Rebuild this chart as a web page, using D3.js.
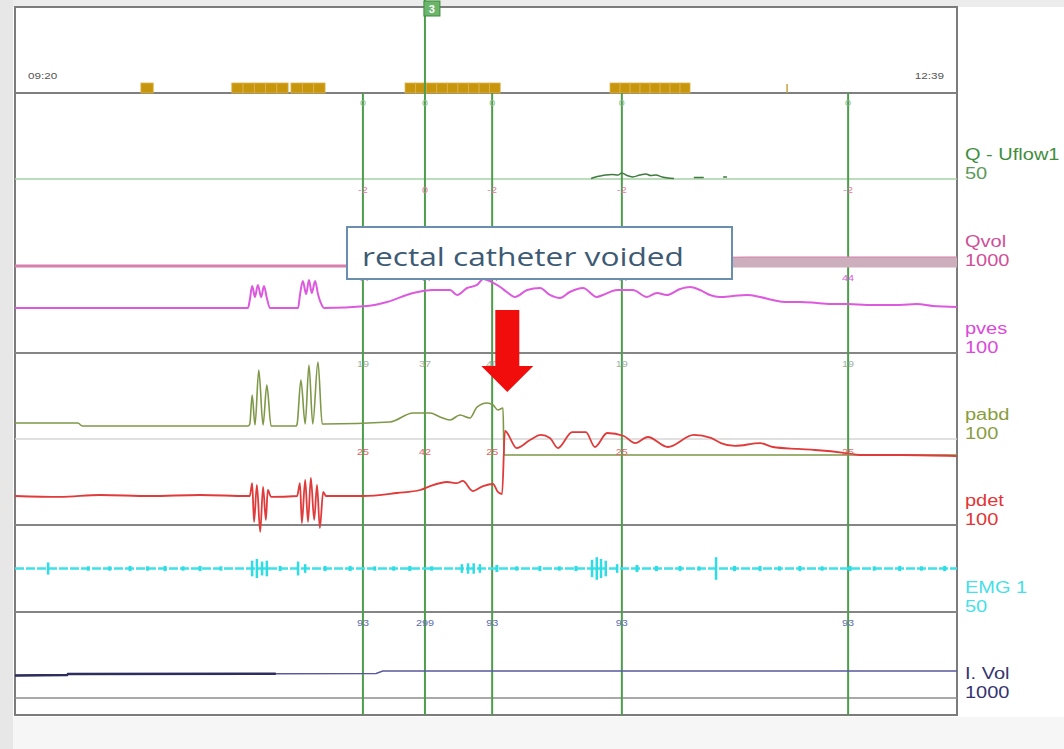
<!DOCTYPE html>
<html><head><meta charset="utf-8">
<script src="https://cdn.jsdelivr.net/npm/d3@7"></script>
<style>html,body{margin:0;padding:0;background:#f5f5f5;}svg{display:block;}</style>
</head><body><svg id="c" width="1064" height="749"></svg>
<script>
// ---------------- DATA ----------------
const timeLabels = ["09:20", "12:39"];
const timeDomain = [0, 199];               // minutes after 09:20
const eventSegments = [[26.6, 29.2], [45.8, 57.7], [58.3, 65.5], [82.4, 102.5], [125.7, 142.6]];
const eventTicks = [163.1];
const markerTimes = [73.5, 86.6, 100.8, 128.2, 176.0];
const flagTime = 86.6;
const flagText = "3";

const channelNames  = ["Q - Uflow1", "Qvol", "pves", "pabd", "pdet", "EMG 1", "I. Vol"];
const channelScales = ["50", "1000", "100", "100", "100", "50", "1000"];

const qLabels    = ["0", "0", "0", "0", "0"];
const qvolLabels = ["-2", "0", "-2", "-2", "-2"];
const pvesLabels = ["44", "44", "44", "44", "44"];
const pabdLabels = ["19", "37", "40", "19", "19"];
const pdetLabels = ["25", "42", "25", "25", "25"];
const ivolLabels = ["93", "299", "93", "93", "93"];

// Q - Uflow1 (ml/s)  [minute, value]  (null = gap)
const qFlow = [[121.7,0.3],[122.7,1.2],[123.6,1.7],[124.8,2.3],[126.1,2.6],[127.4,2.3],[128.2,3.5],
  [129.3,2.0],[130.5,1.2],[132.0,2.3],[133.3,2.9],[134.3,2.0],[135.4,2.3],[136.7,1.2],[137.9,0.6],
  [139.2,0.3],[139.5,null],[143.4,0.9],[145.5,0.9],[146,null],[149.6,1.2],[150.4,1.2]];

// Qvol (ml)
const qVol = [[0,0],[121.7,0],[126,10],[130,22],[135,40],[140,58],[145,75],[150,88],[155,92],[199,92]];

// pves (cmH2O)
const pves = [[0,51.7],[49.2,51.7],[49.6,60.9],[50.1,77.0],[50.7,64.4],[51.3,78.2],[52.0,64.4],[52.6,77.0],
  [53.2,63.2],[53.9,51.7],[59.8,51.7],[60.2,66.7],[60.8,82.8],[61.5,67.8],[62.1,83.9],[62.7,69.0],[63.4,82.8],
  [64.0,67.8],[64.6,57.5],[65.3,51.7],[74.4,54.0],[78.6,58.6],[84.1,69.0],[88.3,72.4],[91.9,72.4],[93.4,66.7],
  [95.5,74.7],[97.6,78.2],[98.9,85.1],[101.0,80.5],[102.5,75.9],[103.9,70.1],[105.6,64.4],[108.2,72.4],
  [110.9,74.7],[113.0,66.7],[115.1,63.2],[117.2,70.1],[120.0,74.7],[122.9,64.4],[124.2,66.7],[127.2,72.4],
  [130.5,72.4],[133.5,64.4],[135.6,69.0],[137.7,66.7],[140.5,73.6],[142.6,75.9],[144.7,72.4],[146.8,66.7],
  [148.9,64.4],[151.7,65.5],[154.6,66.7],[157.4,64.4],[160.1,60.9],[163.1,58.6],[165.8,58.6],[169.4,57.5],
  [172.8,56.3],[176.0,56.3],[180.0,55.2],[186.9,55.2],[190.5,56.3],[193.9,54.0],[199,52.9]];

// pabd (cmH2O)
const pabd = [[0,18.6],[13.3,18.6],[14.2,15.1],[49.2,15.1],[49.6,17.4],[50.1,51.2],[50.7,16.3],[51.5,80.2],
  [52.4,16.3],[53.2,62.8],[54.1,15.1],[59.4,15.1],[59.6,17.4],[60.4,68.6],[61.3,17.4],[62.1,86.0],[62.9,17.4],
  [64.0,89.5],[64.9,17.4],[65.3,17.4],[79.2,19.8],[84.1,30.2],[87.7,30.2],[89.8,25.6],[91.9,22.1],[94.0,27.9],
  [96.1,24.4],[97.6,37.2],[99.7,41.9],[101.0,39.5],[102.0,33.7],[103.1,36.0],[103.3,-18.6],[199,-18.6]];

// pdet (cmH2O)
const pdet = [[0,33.7],[9.5,32.6],[18.0,34.9],[28.5,33.7],[39.1,34.9],[49.2,33.7],[49.6,33.7],[50.1,48.8],
  [50.5,3.5],[51.1,46.5],[51.8,-8.1],[52.4,44.2],[53.0,5.8],[53.4,40.7],[54.1,32.6],[59.6,33.7],[60.2,48.8],
  [60.6,2.3],[61.3,52.3],[61.9,3.5],[62.5,54.7],[63.2,5.8],[63.8,46.5],[64.4,-3.5],[65.1,38.4],[65.7,33.7],
  [73.5,33.7],[80.7,37.2],[85.6,40.7],[87.7,45.3],[91.3,50.0],[93.4,48.8],[94.6,51.2],[96.7,39.5],[98.9,45.3],
  [101.0,47.7],[102.0,38.4],[102.9,36.0],[103.5,109.3],[106.0,89.5],[108.8,98.8],[111.1,104.7],[113.0,101.2],
  [114.7,89.5],[117.7,108.1],[120.6,108.1],[122.5,90.7],[125.1,107.0],[128.6,103.5],[131.0,95.3],[133.7,102.3],
  [137.9,90.7],[143.4,104.7],[147.0,101.2],[149.1,95.3],[152.1,91.9],[157.4,95.3],[160.1,90.7],[165.4,88.4],
  [169.0,87.2],[175.5,83.7],[178.5,81.4],[187.4,81.4],[199,80.2]];

// EMG 1 bursts (uV half-amplitude)
const emgBursts = [[7.0,7],[15.5,2.5],[20.0,2.5],[24.3,3],[28.0,2.5],[31.7,3],[35.5,2.5],[39.1,3],[43.5,2.5],
  [50.1,9],[51.1,11],[52.2,8],[53.2,9],[56.0,3],[59.8,8],[61.3,5],[65.5,3],[70.8,3],[76.0,2.5],[80.0,2.5],
  [83.4,3],[88.0,2.5],[94.4,5],[95.7,6],[96.9,6],[98.2,5],[101.8,4],[106.0,2.5],[110.9,3],[115.0,2.5],
  [118.5,3],[121.9,10],[122.9,13],[123.8,11],[124.8,9],[127.2,5],[131.4,4],[135.5,3],[140.5,3],[144.5,2.5],
  [148.1,13],[152.0,3],[157.4,3],[161.5,2.5],[165.8,3],[170.5,2.5],[176.4,3],[181.5,2.5],[186.9,3],[191.5,2.5],
  [196.4,3]];

// Infused volume (ml)
const iVol = [[0,262],[11.0,267],[11.2,279],[55.1,282],[76.3,285],[77.7,314],[199,314]];

const annotationText = "rectal catheter voided";
const voidTime = 104.0;

// ---------------- LAYOUT ----------------
const svg = d3.select("#c");
const L = 15, R = 957, T = 7, B = 715;
const x = d3.scaleLinear().domain(timeDomain).range([L, R]);

const yQ    = d3.scaleLinear().domain([0, 50]).range([179, 93]);
const yQvol = d3.scaleLinear().domain([0, 1000]).range([266, 179]);
const yPves = d3.scaleLinear().domain([0, 100]).range([353, 266]);
const yPabd = d3.scaleLinear().domain([0, 100]).range([439, 353]);
const yPdet = d3.scaleLinear().domain([0, 100]).range([525, 439]);
const yEmg  = d3.scaleLinear().domain([-50, 50]).range([612, 525]);
const yIvol = d3.scaleLinear().domain([0, 1000]).range([698, 612]);

// backgrounds
svg.append("rect").attr("width", 1064).attr("height", 749).attr("fill", "#f6f6f6");
svg.append("rect").attr("x", 0).attr("y", 0).attr("width", 13).attr("height", 749).attr("fill", "#e7e7e7");
svg.append("rect").attr("x", 13).attr("y", 0).attr("width", 1051).attr("height", T).attr("fill", "#ececec");
svg.append("rect").attr("x", 13).attr("y", T).attr("width", 1051).attr("height", B - T + 2).attr("fill", "#ffffff");
svg.append("rect").attr("x", L).attr("y", T).attr("width", R - L).attr("height", B - T)
  .attr("fill", "#fff").attr("stroke", "#7c7c7c").attr("stroke-width", 2);

// horizontal rules
const hr = (y, c, w) => svg.append("line").attr("x1", L).attr("x2", R).attr("y1", y).attr("y2", y)
  .attr("stroke", c).attr("stroke-width", w);
hr(93, "#7f7f7f", 2);
hr(yQ(0), "#a6d2a6", 1.5);
hr(353, "#858585", 2);
hr(439, "#d6d6d6", 1.5);
hr(525, "#858585", 2);
hr(612, "#858585", 2);
hr(698, "#8c8c8c", 1.5);

// top event bar
const evG = svg.append("g");
eventSegments.forEach(([s, e]) => {
  const n = Math.max(1, Math.round((e - s) / 2.2));
  const step = (e - s) / n;
  for (let i = 0; i < n; i++) {
    evG.append("rect").attr("x", x(s + i * step)).attr("y", 83)
      .attr("width", x(s + (i + 1) * step) - x(s + i * step)).attr("height", 10)
      .attr("fill", "#c8960c").attr("stroke", "#ddb24a").attr("stroke-width", 0.8);
  }
});
eventTicks.forEach(t => evG.append("line").attr("x1", x(t)).attr("x2", x(t)).attr("y1", 84).attr("y2", 93)
  .attr("stroke", "#c8a040").attr("stroke-width", 1.5));

const smallText = (g, txt, px, py, col, size, anchor, sx) =>
  g.append("text").attr("transform", `translate(${px},${py}) scale(${sx},1)`)
    .attr("text-anchor", anchor).attr("font-family", "Liberation Sans, Arial, sans-serif")
    .attr("font-size", size).attr("fill", col).text(txt);

smallText(svg, timeLabels[0], 28, 79, "#555", 9, "start", 1.3);
smallText(svg, timeLabels[1], 944, 79, "#555", 9, "end", 1.3);

// marker lines
const mG = svg.append("g");
markerTimes.forEach(t => {
  mG.append("line").attr("x1", x(t)).attr("x2", x(t))
    .attr("y1", t === flagTime ? 0 : 93).attr("y2", B)
    .attr("stroke", "#4d9d4d").attr("stroke-width", 2);
});
// flag
svg.append("rect").attr("x", x(flagTime) - 1).attr("y", 1).attr("width", 16).attr("height", 15)
  .attr("fill", "#6cb66c").attr("stroke", "#3c8c3c").attr("stroke-width", 1);
svg.append("text").attr("x", x(flagTime) + 7).attr("y", 13).attr("text-anchor", "middle")
  .attr("font-family", "Liberation Sans, Arial, sans-serif").attr("font-size", 11).attr("font-weight", "bold")
  .attr("fill", "#fff").text(flagText);

// traces
const lineFor = (ys, curve) => d3.line().defined(d => d[1] !== null).x(d => x(d[0])).y(d => ys(d[1]))
  .curve(curve || d3.curveLinear);

// Qvol
svg.append("path").datum(qVol).attr("d", lineFor(yQvol)).attr("fill", "none")
  .attr("stroke", "#d87fae").attr("stroke-width", 3);
svg.append("path").datum(qVol.filter(d => d[0] >= 121.7))
  .attr("d", d3.area().x(d => x(d[0])).y0(yQvol(0) + 1.5).y1(d => yQvol(d[1]) - 0.5))
  .attr("fill", "#ccaebd");

// Q flow
svg.append("path").datum(qFlow).attr("d", lineFor(yQ, d3.curveMonotoneX)).attr("fill", "none")
  .attr("stroke", "#3f7a3f").attr("stroke-width", 1.5);

// pves
svg.append("path").datum(pves).attr("d", lineFor(yPves, d3.curveMonotoneX)).attr("fill", "none")
  .attr("stroke", "#dc5ade").attr("stroke-width", 2);
// pabd
svg.append("path").datum(pabd).attr("d", lineFor(yPabd, d3.curveMonotoneX)).attr("fill", "none")
  .attr("stroke", "#7f9848").attr("stroke-width", 1.6);
// pdet
svg.append("path").datum(pdet).attr("d", lineFor(yPdet, d3.curveMonotoneX)).attr("fill", "none")
  .attr("stroke", "#e03a3a").attr("stroke-width", 1.8);

// EMG
svg.append("line").attr("x1", x(timeDomain[0])).attr("x2", x(timeDomain[1]))
  .attr("y1", yEmg(0)).attr("y2", yEmg(0)).attr("stroke", "#3ee2e8").attr("stroke-width", 2.5)
  .attr("stroke-dasharray", "9 2");
svg.append("g").selectAll("line").data(emgBursts).join("line")
  .attr("x1", d => x(d[0])).attr("x2", d => x(d[0]))
  .attr("y1", d => yEmg(d[1])).attr("y2", d => yEmg(-d[1]))
  .attr("stroke", "#2edde4").attr("stroke-width", d => d[1] > 4 ? 2.5 : 3);

// I.Vol
svg.append("path").datum(iVol).attr("d", lineFor(yIvol)).attr("fill", "none")
  .attr("stroke", "#5858a0").attr("stroke-width", 1.5);
svg.append("path").datum(iVol.filter(d => d[0] <= 55.1)).attr("d", lineFor(yIvol)).attr("fill", "none")
  .attr("stroke", "#2e2e5e").attr("stroke-width", 2.5);

// marker value labels
const labelRows = [
  [qLabels, 106, "#8cc08c"], [qvolLabels, 193, "#e5779f"], [pvesLabels, 281, "#dc5ade"],
  [pabdLabels, 367, "#9fb29f"], [pdetLabels, 455, "#e06666"], [ivolLabels, 626, "#5c6cb0"]
];
const lG = svg.append("g");
labelRows.forEach(([labels, py, col]) => {
  labels.forEach((txt, i) => smallText(lG, txt, x(markerTimes[i]), py, col, 9, "middle", 1.2));
});

// right-side channel labels
const chColors = [["#3e8e3e", "#5a9a5a"], ["#cf4f98", "#cf4f98"], ["#dc48dc", "#dc48dc"],
  ["#8a9d3e", "#8a9d3e"], ["#e23535", "#e23535"], ["#46e0e6", "#46e0e6"], ["#34346e", "#34346e"]];
const chBottoms = [yQ(0), yQvol(0), yPves(0), yPabd(0), yPdet(0), yEmg(-50), yIvol(0)];
channelNames.forEach((n, i) => {
  smallText(svg, n, 965, chBottoms[i] - 19, chColors[i][0], 16, "start", 1.25);
  smallText(svg, channelScales[i], 965, chBottoms[i], chColors[i][1], 16, "start", 1.25);
});

// annotation box
const bx0 = 347, bx1 = 732, by0 = 227, by1 = 279;
svg.append("rect").attr("x", bx0).attr("y", by0).attr("width", bx1 - bx0).attr("height", by1 - by0)
  .attr("fill", "#fff").attr("stroke", "#6a8fae").attr("stroke-width", 2);
svg.append("text").attr("x", 362).attr("y", 266).attr("font-family", "Open Sans, sans-serif")
  .attr("font-size", 25).attr("fill", "#3d5a74").attr("textLength", 322).attr("lengthAdjust", "spacingAndGlyphs")
  .text(annotationText);

// red arrow at void time
const ax = x(voidTime);
svg.append("path")
  .attr("d", `M${ax - 12},310 L${ax + 12},310 L${ax + 12},366 L${ax + 26},366 L${ax},392 L${ax - 26},366 L${ax - 12},366 Z`)
  .attr("fill", "#f20d0d");
</script></body></html>
